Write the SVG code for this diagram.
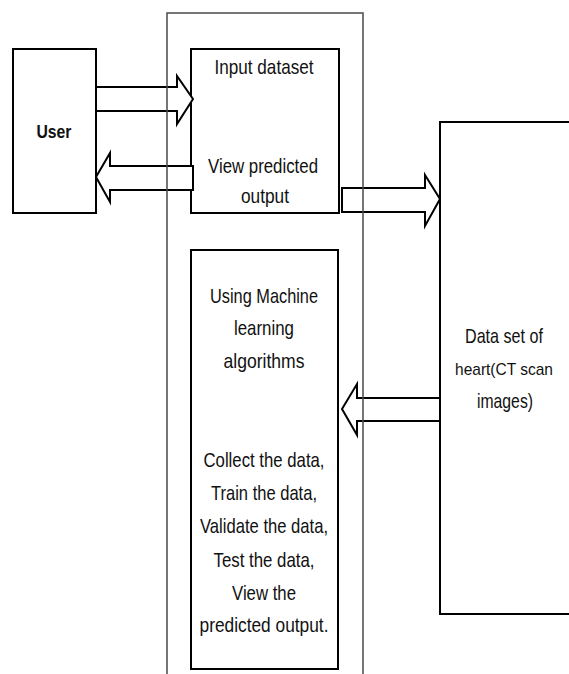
<svg xmlns="http://www.w3.org/2000/svg" width="569" height="674" viewBox="0 0 569 674">
<style>
.box{fill:#fff;stroke:#000;stroke-width:2}
.arr{fill:#fff;stroke:#000;stroke-width:2;stroke-linejoin:miter}
.frame{fill:none;stroke:#4a4a4a;stroke-width:1.5}
text{font-family:"Liberation Sans",Arial,sans-serif;font-size:21px;fill:#111;text-anchor:middle}
.b{font-weight:bold;font-size:19px}
.s{font-size:17px}
</style>
<rect width="569" height="674" fill="#fff"/>
<g id="user">
<rect class="box" x="13" y="49" width="83" height="164"/>
<text class="b" x="54" y="138" textLength="35" lengthAdjust="spacingAndGlyphs">User</text>
</g>
<g id="io">
<rect class="box" x="191" y="49" width="148" height="164"/>
<text x="264" y="74" textLength="99" lengthAdjust="spacingAndGlyphs">Input dataset</text>
<text x="263" y="173" textLength="110" lengthAdjust="spacingAndGlyphs">View predicted</text>
<text x="265" y="203" textLength="48" lengthAdjust="spacingAndGlyphs">output</text>
</g>
<g id="ml">
<rect class="box" x="191" y="250" width="147" height="419"/>
<text x="264" y="303" textLength="108" lengthAdjust="spacingAndGlyphs">Using Machine</text>
<text x="264" y="335" textLength="60" lengthAdjust="spacingAndGlyphs">learning</text>
<text x="264" y="368" textLength="81" lengthAdjust="spacingAndGlyphs">algorithms</text>
<text x="264" y="467" textLength="121" lengthAdjust="spacingAndGlyphs">Collect the data,</text>
<text x="264" y="500" textLength="106" lengthAdjust="spacingAndGlyphs">Train the data,</text>
<text x="264" y="533" textLength="128" lengthAdjust="spacingAndGlyphs">Validate the data,</text>
<text x="264" y="567" textLength="101" lengthAdjust="spacingAndGlyphs">Test the data,</text>
<text x="264" y="600" textLength="64" lengthAdjust="spacingAndGlyphs">View the</text>
<text x="264" y="632" textLength="129" lengthAdjust="spacingAndGlyphs">predicted output.</text>
</g>
<g id="dataset">
<path class="box" d="M572,122 H440 V614 H572"/>
<text x="504" y="343" textLength="78" lengthAdjust="spacingAndGlyphs">Data set of</text>
<text class="s" x="504" y="375" textLength="98" lengthAdjust="spacingAndGlyphs">heart(CT scan</text>
<text x="505" y="408" textLength="56" lengthAdjust="spacingAndGlyphs">images)</text>
</g>
<g id="connectors">
<polygon class="arr" points="96,87 177,87 177,76 193,99 177,124 177,111 96,111"/>
<polygon class="arr" points="96,177 110,153 110,166 193,166 193,190 110,190 110,202"/>
<polygon class="arr" points="342,188 425,188 425,175 440,199 425,226 425,212 342,212"/>
<polygon class="arr" points="342,409 357,384 357,398 440,398 440,421 357,421 357,435"/>
</g>
<g id="frame">
<path class="frame" d="M167,676 V13 H363 V676"/>
</g>
</svg>
